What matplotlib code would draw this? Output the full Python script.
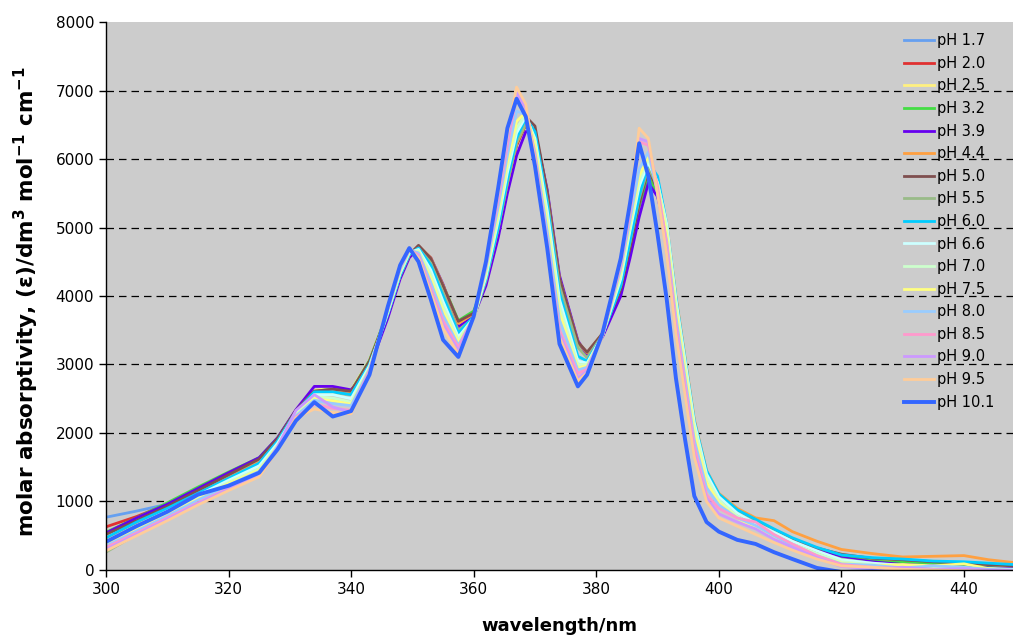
import matplotlib
matplotlib.use("Agg")
import matplotlib.pyplot as plt

# wavelength grid (nm) shared by all spectra
wavelength = [300, 305, 310, 315, 320, 325,
              328, 331, 334, 337, 340, 343, 346, 348,
              349.5, 351, 353, 355, 357.5, 360, 362, 364, 365.5,
              367, 368.5, 370, 372, 374, 377, 378.5, 381,
              384, 385.5, 387, 388.5, 390, 391.5, 393, 394.5, 396, 398,
              400, 403, 406, 409, 412, 416, 420, 425, 430, 435,
              440, 444, 448]

labels = ["pH 1.7", "pH 2.0", "pH 2.5", "pH 3.2", "pH 3.9", "pH 4.4", "pH 5.0",
          "pH 5.5", "pH 6.0", "pH 6.6", "pH 7.0", "pH 7.5", "pH 8.0", "pH 8.5",
          "pH 9.0", "pH 9.5", "pH 10.1"]

colors = ["#66A0F0", "#E03030", "#FFF080", "#44DD44", "#6600EE", "#FFA040", "#7F4F4F",
          "#99BB88", "#00CCFF", "#CCFFFF", "#CCFFCC", "#FFFF80", "#99CCFF", "#FF99CC",
          "#CC99FF", "#FFCC99", "#3366FF"]

ph_1_7 = [770, 860, 960, 1160, 1370, 1580,
          1900, 2320, 2590, 2620, 2590, 3030, 3750, 4300,
          4600, 4720, 4530, 4130, 3600, 3720, 4250, 5000, 5650,
          6200, 6520, 6400, 5480, 4200, 3300, 3150, 3420,
          4100, 4700, 5350, 5780, 5500, 4900, 3850, 2950, 2050, 1320,
          1030, 820, 690, 560, 440, 300, 220, 150, 120, 90,
          80, 60, 40]
ph_2_0 = [630, 780, 960, 1180, 1400, 1600,
          1900, 2320, 2600, 2630, 2600, 3040, 3760, 4310,
          4610, 4730, 4540, 4130, 3580, 3720, 4230, 4980, 5640,
          6200, 6500, 6380, 5450, 4200, 3290, 3140, 3420,
          4080, 4680, 5320, 5750, 5500, 4920, 3880, 2980, 2080, 1340,
          1040, 840, 700, 560, 430, 290, 200, 140, 110, 80,
          70, 50, 30]
ph_2_5 = [490, 700, 900, 1120, 1360, 1590,
          1890, 2310, 2620, 2660, 2630, 3060, 3760, 4300,
          4600, 4710, 4520, 4120, 3570, 3700, 4220, 4980, 5650,
          6240, 6540, 6420, 5480, 4220, 3300, 3130, 3430,
          4120, 4720, 5380, 5800, 5520, 4930, 3880, 2980, 2080, 1350,
          1050, 830, 690, 550, 420, 280, 190, 150, 100, 60,
          70, 40, 30]
ph_3_2 = [550, 760, 980, 1210, 1430, 1640,
          1930, 2330, 2610, 2640, 2610, 3060, 3770, 4310,
          4600, 4710, 4530, 4160, 3640, 3780, 4260, 5000, 5640,
          6230, 6510, 6400, 5470, 4230, 3320, 3160, 3450,
          4100, 4680, 5320, 5750, 5500, 4920, 3870, 2980, 2080, 1340,
          1040, 840, 700, 560, 430, 290, 200, 130, 110, 90,
          60, 40, 20]
ph_3_9 = [540, 760, 960, 1190, 1420, 1640,
          1930, 2340, 2680, 2680, 2630, 2950, 3680, 4250,
          4560, 4700, 4560, 4170, 3550, 3700, 4150, 4850, 5500,
          6050, 6400, 6400, 5550, 4300, 3350, 3130, 3400,
          4000, 4550, 5150, 5650, 5450, 4900, 3880, 3000, 2080, 1330,
          1020, 820, 680, 550, 430, 290, 180, 120, 80, 60,
          40, 30, 20]
ph_4_4 = [460, 680, 900, 1130, 1370, 1600,
          1900, 2320, 2610, 2630, 2600, 3040, 3750, 4300,
          4600, 4730, 4560, 4160, 3600, 3740, 4250, 5000, 5650,
          6230, 6520, 6420, 5500, 4250, 3330, 3170, 3450,
          4150, 4780, 5420, 5900, 5650, 5050, 4000, 3100, 2200, 1450,
          1120, 900, 760, 720, 560, 420, 300, 240, 190, 200,
          210, 150, 110]
ph_5_0 = [520, 720, 930, 1160, 1390, 1620,
          1920, 2330, 2610, 2640, 2610, 3050, 3750, 4300,
          4600, 4740, 4550, 4150, 3630, 3750, 4250, 5000, 5650,
          6280, 6620, 6480, 5520, 4260, 3330, 3180, 3450,
          4100, 4700, 5350, 5850, 5550, 4950, 3900, 3000, 2100, 1380,
          1060, 860, 730, 580, 450, 320, 230, 170, 150, 120,
          100, 80, 60]
ph_5_5 = [260, 520, 780, 1060, 1320, 1560,
          1880, 2310, 2560, 2580, 2560, 3000, 3740, 4300,
          4600, 4700, 4480, 4050, 3500, 3680, 4220, 4980, 5640,
          6250, 6520, 6350, 5400, 4150, 3250, 3100, 3430,
          4150, 4780, 5420, 5880, 5600, 5000, 3950, 3030, 2120, 1380,
          1060, 840, 700, 560, 420, 260, 160, 100, 60, 40,
          30, 20, 10]
ph_6_0 = [470, 700, 900, 1120, 1340, 1560,
          1880, 2310, 2600, 2600, 2560, 3000, 3740, 4300,
          4610, 4700, 4450, 4000, 3460, 3700, 4250, 5000, 5700,
          6300, 6600, 6400, 5350, 4050, 3120, 3050, 3420,
          4150, 4800, 5450, 5950, 5750, 5050, 3980, 3080, 2180, 1450,
          1110, 880, 740, 600, 470, 330, 220, 180, 160, 130,
          120, 100, 80]
ph_6_6 = [420, 650, 860, 1090, 1310, 1520,
          1850, 2290, 2560, 2560, 2500, 2980, 3760, 4330,
          4630, 4680, 4380, 3920, 3400, 3680, 4280, 5100, 5800,
          6380, 6620, 6300, 5250, 3950, 3050, 3020, 3420,
          4250, 4950, 5600, 5950, 5650, 5050, 3950, 3050, 2150, 1400,
          1070, 830, 680, 550, 420, 280, 150, 100, 70, 50,
          30, 20, 10]
ph_7_0 = [380, 600, 820, 1050, 1280, 1480,
          1820, 2270, 2530, 2510, 2450, 2950, 3780, 4350,
          4650, 4660, 4320, 3850, 3360, 3680, 4320, 5150, 5880,
          6450, 6650, 6250, 5150, 3850, 3000, 3000, 3420,
          4300, 5000, 5680, 6000, 5650, 5000, 3900, 3000, 2100, 1350,
          1020, 790, 640, 510, 380, 240, 120, 80, 50, 30,
          20, 10, 0]
ph_7_5 = [360, 580, 800, 1030, 1260, 1460,
          1800, 2250, 2500, 2470, 2420, 2940, 3790, 4370,
          4660, 4640, 4260, 3780, 3320, 3680, 4360, 5220, 5950,
          6550, 6680, 6200, 5050, 3750, 2950, 2980, 3420,
          4350, 5050, 5750, 6050, 5600, 4900, 3800, 2900, 2000, 1280,
          980, 760, 610, 480, 350, 200, 100, 60, 80, 60,
          90, 20, -10]
ph_8_0 = [350, 570, 790, 1020, 1240, 1440,
          1790, 2250, 2480, 2430, 2400, 2930, 3800, 4390,
          4670, 4630, 4200, 3720, 3280, 3690, 4400, 5300, 6050,
          6700, 6650, 6100, 4950, 3650, 2920, 2960, 3420,
          4400, 5100, 5850, 6100, 5500, 4800, 3700, 2800, 1900, 1200,
          950, 760, 650, 500, 360, 210, 90, 70, 30, 60,
          40, 10, 0]
ph_8_5 = [330, 540, 760, 980, 1190, 1380,
          1760, 2230, 2420, 2360, 2330, 2910, 3820, 4420,
          4680, 4600, 4120, 3640, 3250, 3690, 4450, 5400, 6200,
          6930, 6750, 6050, 4800, 3500, 2870, 2930, 3420,
          4450, 5200, 6250, 6200, 5600, 4750, 3600, 2700, 1800, 1100,
          900, 760, 700, 520, 380, 210, 80, 40, 20, 10,
          0, -10, -20]
ph_9_0 = [300, 520, 740, 970, 1180, 1380,
          1800, 2330, 2560, 2380, 2300, 2880, 3830, 4440,
          4690, 4580, 4080, 3580, 3200, 3690, 4480, 5450, 6280,
          6980, 6750, 6000, 4750, 3450, 2800, 2900, 3420,
          4480, 5250, 6300, 6250, 5500, 4650, 3500, 2600, 1700, 1050,
          820, 700, 600, 450, 330, 180, 50, 20, 40, 10,
          20, 0, -10]
ph_9_5 = [280, 500, 720, 950, 1160, 1360,
          1760, 2220, 2350, 2300, 2280, 2880, 3840, 4450,
          4700, 4560, 4050, 3530, 3150, 3690, 4500, 5500, 6350,
          7050, 6800, 5980, 4720, 3400, 2760, 2880, 3420,
          4500, 5300, 6450, 6300, 5500, 4600, 3450, 2550, 1650, 1000,
          760, 640, 520, 400, 290, 160, 60, 40, 10, 0,
          -10, -20, -20]
ph_10_1 = [410, 640, 850, 1100, 1230, 1420,
           1760, 2180, 2450, 2240, 2320, 2850, 3850, 4450,
           4700, 4500, 3950, 3360, 3110, 3700, 4500, 5580, 6450,
           6880, 6620, 5900, 4700, 3300, 2680, 2850, 3450,
           4550, 5350, 6230, 5750, 4900, 3950, 2800, 1900, 1080, 700,
           560, 440, 380, 260, 160, 30, -30, -20, -40, -60,
           -50, -60, -70]

spectra = [ph_1_7, ph_2_0, ph_2_5, ph_3_2, ph_3_9, ph_4_4, ph_5_0, ph_5_5, ph_6_0,
           ph_6_6, ph_7_0, ph_7_5, ph_8_0, ph_8_5, ph_9_0, ph_9_5, ph_10_1]

plt.rcParams['font.family'] = ['DejaVu Sans']
plt.rcParams['mathtext.default'] = 'bf'

fig = plt.figure(figsize=(10.13, 6.38), dpi=100)
ax = fig.add_axes([0.1046, 0.1066, 0.8954, 0.8589])
ax.set_facecolor('#cccccc')

for i in range(len(spectra)):
    lw = 2.8 if labels[i] == "pH 10.1" else 2.0
    ax.plot(wavelength, spectra[i], color=colors[i], lw=lw, label=labels[i],
            solid_joinstyle='round')

ax.set_xlim(300, 448)
ax.set_ylim(0, 8000)
ax.set_xticks(range(300, 441, 20))
ax.set_yticks(range(0, 8001, 1000))
for yv in range(1000, 8000, 1000):
    ax.axhline(yv, color='black', lw=0.9, ls=(0, (6, 4)), zorder=0.5)

ax.tick_params(direction='out', length=5, width=1, labelsize=11, colors='black')
for s in ['left', 'bottom']:
    ax.spines[s].set_color('black')
    ax.spines[s].set_linewidth(1)
ax.spines['top'].set_visible(False)
ax.spines['right'].set_visible(False)

ax.set_xlabel('wavelength/nm', fontsize=13, fontweight='bold')
ax.set_ylabel(r'molar absorptivity, (ε)/dm$^{3}$ mol$^{-1}$ cm$^{-1}$',
              fontsize=15.5, fontweight='bold')
ax.xaxis.set_label_coords(0.5, -0.085)
ax.yaxis.set_label_coords(-0.072, 0.49)

leg = ax.legend(loc='upper left', bbox_to_anchor=(0.873, 0.99), frameon=False,
                fontsize=10.5, handlelength=2.1, handletextpad=0.2,
                labelspacing=0.52, borderaxespad=0)

fig.savefig('out.png', dpi=100)
